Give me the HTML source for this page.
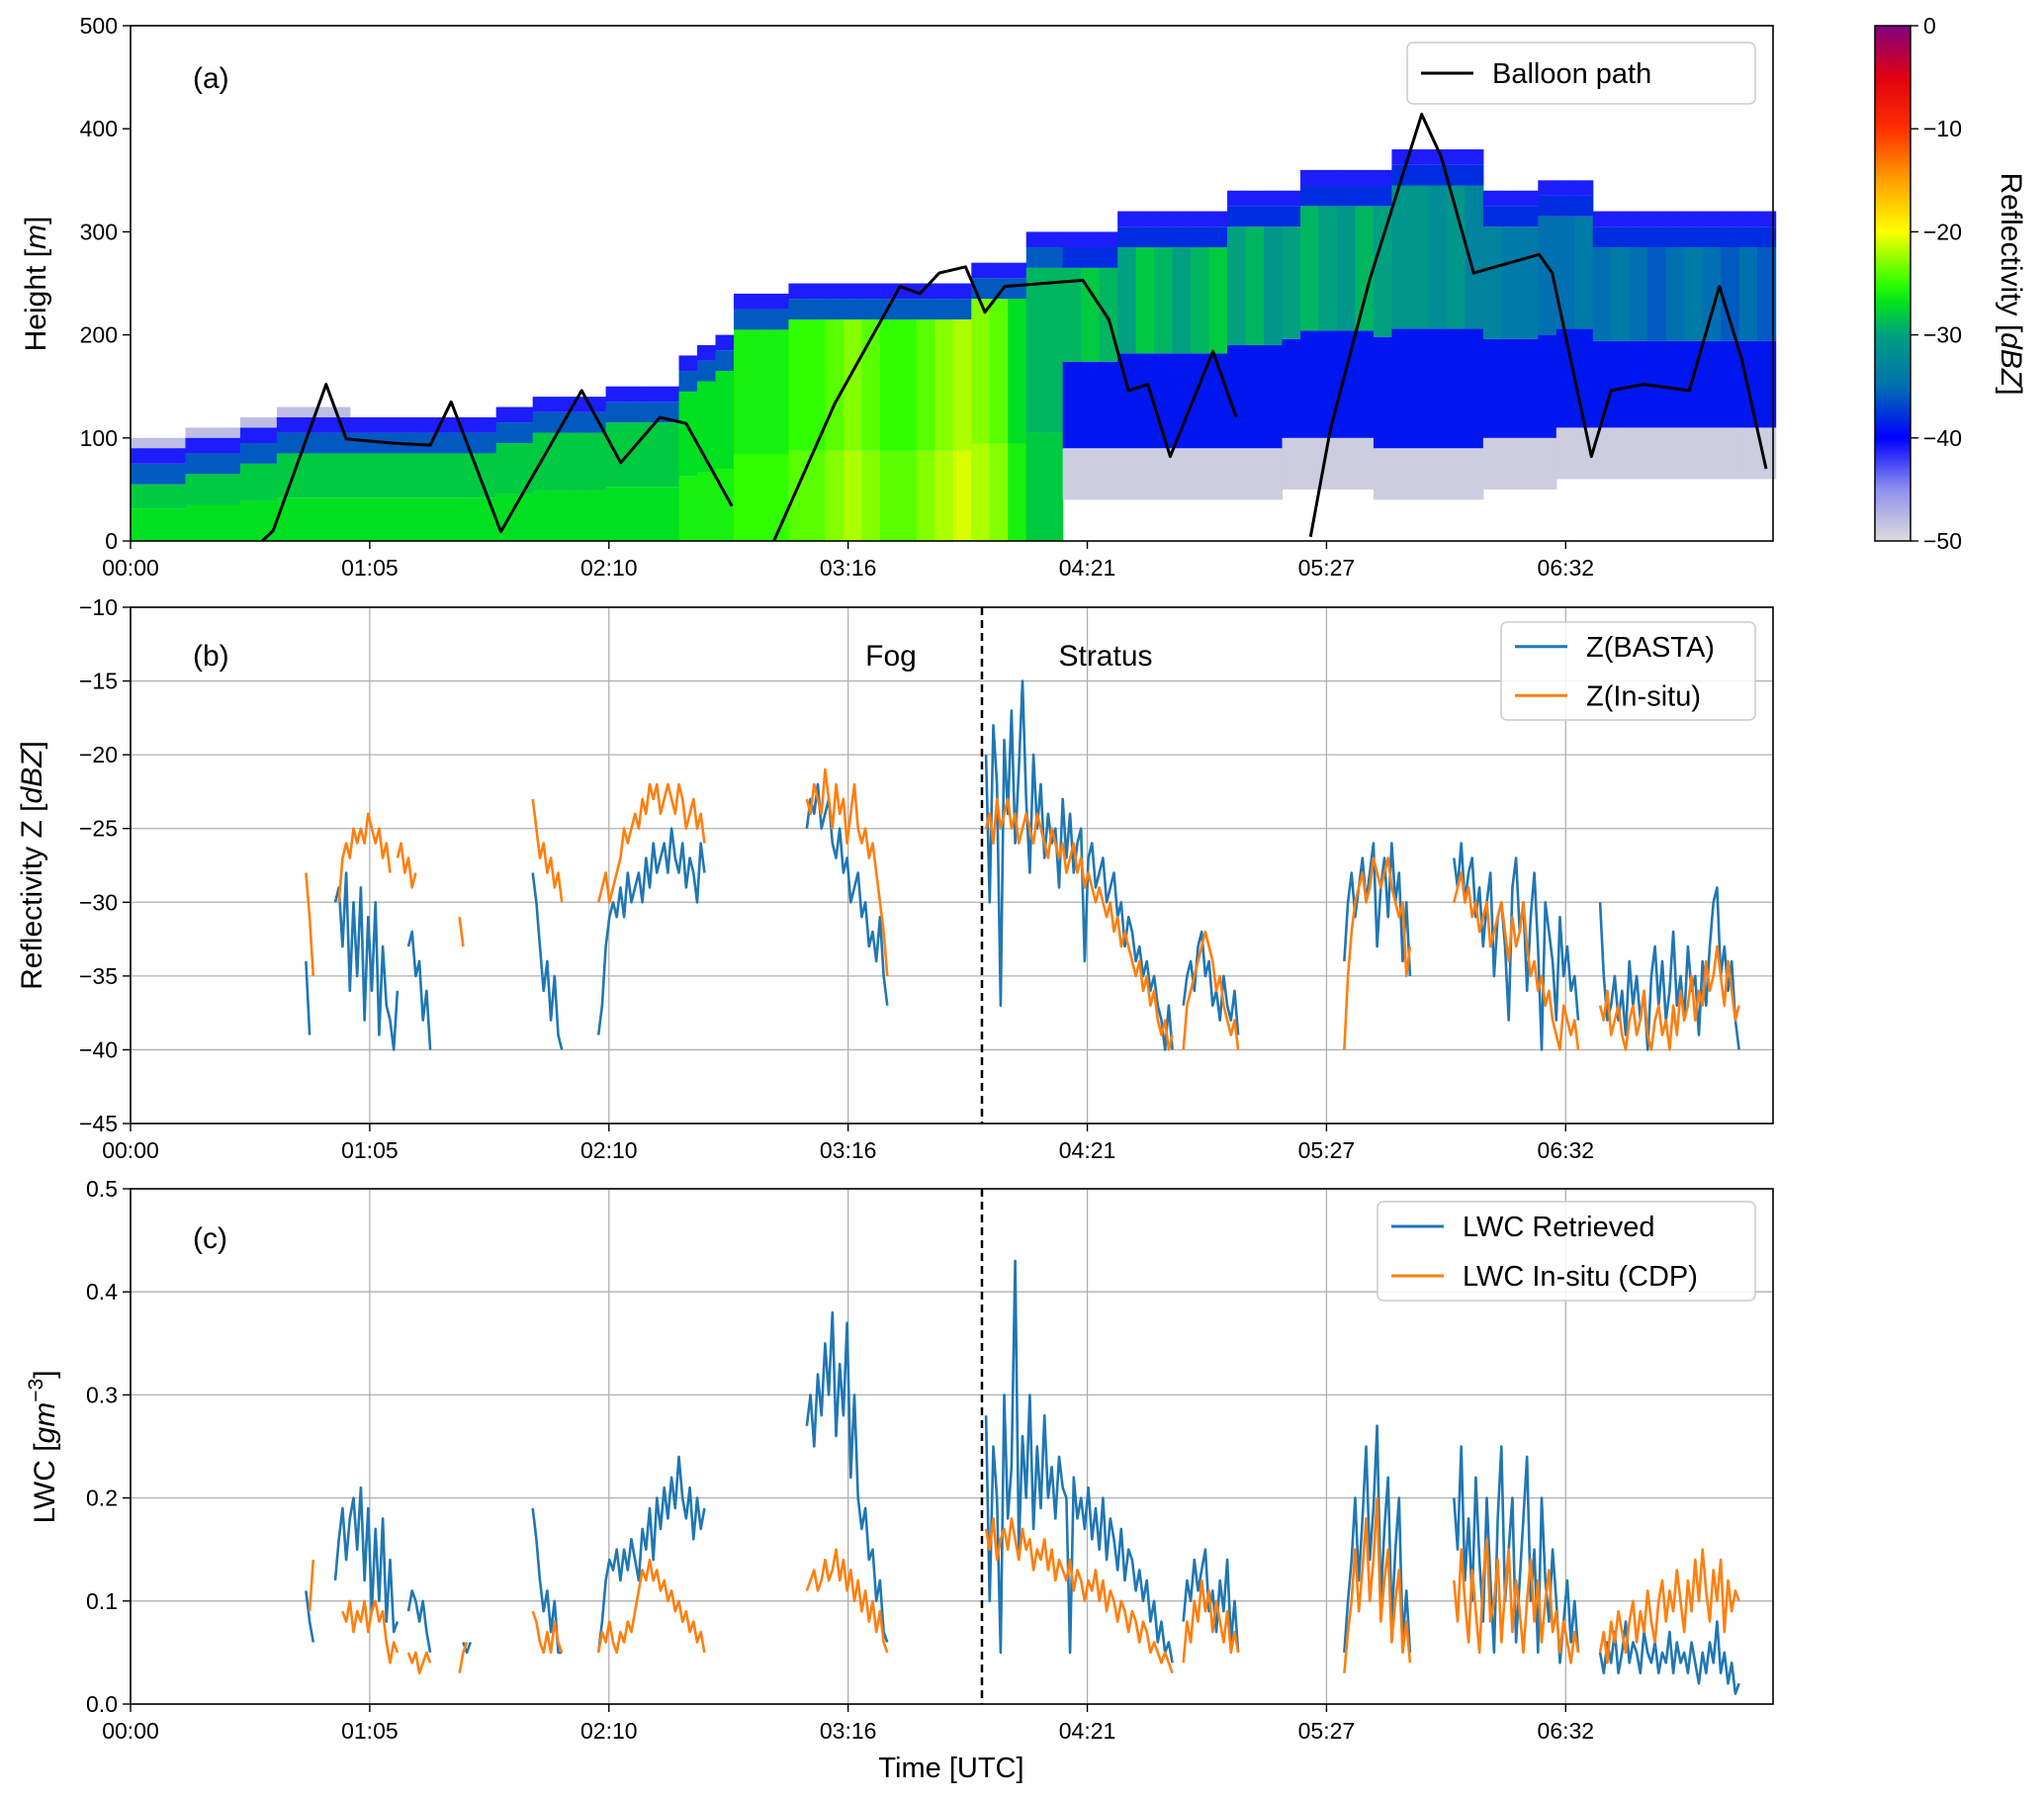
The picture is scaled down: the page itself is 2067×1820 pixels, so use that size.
<!DOCTYPE html>
<html><head><meta charset="utf-8"><style>
body{margin:0;background:#fff}
svg{display:block;font-family:"Liberation Sans","DejaVu Sans",sans-serif}
</style></head><body>
<svg id="fig" width="2067" height="1820" viewBox="0 0 2067 1820" xmlns="http://www.w3.org/2000/svg">
<defs>
<linearGradient id="cbar" x1="0" y1="1" x2="0" y2="0">
<stop offset="0" stop-color="#dcdcdc"/><stop offset="0.1" stop-color="#9090f0"/><stop offset="0.2" stop-color="#0000ff"/><stop offset="0.3" stop-color="#0070b0"/><stop offset="0.4" stop-color="#00a080"/><stop offset="0.46" stop-color="#00e020"/><stop offset="0.5" stop-color="#30ff00"/><stop offset="0.6" stop-color="#ffff00"/><stop offset="0.7" stop-color="#ffa000"/><stop offset="0.8" stop-color="#ff3000"/><stop offset="0.9" stop-color="#e00010"/><stop offset="1" stop-color="#800080"/>
</linearGradient>
</defs>
<g id="root"></g>
</svg>
<script>
const tickMinutes=[0,65.43,130.86,196.29,261.72,327.15,392.58];
const tickLabels=["00:00","01:05","02:10","03:16","04:21","05:27","06:32"];
const aTicks=[0,100,200,300,400,500];
const bTicks=[-45,-40,-35,-30,-25,-20,-15,-10];
const cTicks=[0,0.1,0.2,0.3,0.4,0.5];
const cbTicks=[-50,-40,-30,-20,-10,0];
// heatmap bins of 5 min
const heatTop=[90,90,90,100,100,100,110,110,120,120,120,120,120,120,120,120,120,120,120,120,130,130,140,140,140,140,150,150,150,150,180,190,200,240,240,240,250,250,250,250,250,250,250,250,250,250,270,270,270,300,300,300,300,300,320,320,320,320,320,320,340,340,340,340,360,360,360,360,360,380,380,380,380,380,340,340,340,350,350,350,320,320,320,320,320,320,320,320,320,320];
const heatBase=[0,0,0,0,0,0,0,0,0,0,0,0,0,0,0,0,0,0,0,0,0,0,0,0,0,0,0,0,0,0,0,0,0,0,0,0,0,0,0,0,0,0,0,0,0,0,0,0,0,0,0,40,40,40,40,40,40,40,40,40,40,40,40,50,50,50,50,50,40,40,40,40,40,40,50,50,50,50,60,60,60,60,60,60,60,60,60,60,60,60];
const heatCore=[-28,-28,-28,-28,-28,-28,-28,-28,-28,-28,-28,-28,-28,-28,-28,-28,-28,-28,-28,-28,-28,-28,-28,-28,-28,-28,-28,-28,-28,-28,-27,-27,-27,-26,-26,-26,-25,-25,-24,-23,-24,-25,-25,-24,-23,-22,-23,-24,-27,-29,-29,-29,-28,-29,-30,-28,-29,-30,-29,-28,-30,-29,-31,-30,-29,-30,-31,-29,-30,-31,-31,-32,-31,-33,-33,-34,-34,-35,-35,-34,-35,-34,-35,-36,-35,-34,-35,-36,-35,-36];
// balloon path: minutes, heights (null = break)
const balloonT=[36,39,53.5,59,71.3,82,87.7,101.3,123.4,134.1,144.8,152,164.5,null,176,192.6,210.5,215.9,221.2,228.4,233.7,239.1,260.5,267.6,273,278.3,284.4,296.1,302.5,null,322.8,328.2,338.9,353.2,358.5,367.4,385.3,388.9,399.6,405,413.9,426.4,434.6,440.7,447.4];
const balloonH=[0,10,152,99,95,93,135,9,146,76,120,114,34,null,0,133,247,240,260,266,222,247,253,215,146,152,82,184,120,null,4,108,253,414,373,260,278,260,82,146,152,146,247,177,70];
// Z series: segment start minutes and per-minute values
const zBastaStart=[48,56,76,110,128,185,234,288,332,362,402];
const zBastaVals=[[-34,-39],[-30,-29,-33,-28,-36,-30,-35,-29,-38,-31,-36,-30,-39,-33,-37,-38,-40,-36],[-33,-32,-35,-34,-38,-36,-40],[-28,-30,-33,-36,-34,-38,-35,-39,-40],[-39,-37,-33,-31,-30,-31,-29,-31,-28,-30,-29,-28,-30,-27,-29,-26,-28,-27,-26,-28,-25,-27,-28,-26,-29,-27,-28,-30,-26,-28],[-25,-23,-24,-22,-25,-24,-23,-26,-27,-25,-28,-27,-30,-29,-28,-31,-30,-33,-32,-34,-31,-35,-37],[-20,-30,-18,-22,-37,-19,-24,-17,-26,-21,-15,-23,-28,-20,-25,-22,-27,-24,-26,-25,-29,-23,-27,-24,-28,-26,-25,-34,-27,-26,-29,-28,-27,-30,-29,-28,-31,-30,-33,-31,-32,-34,-33,-35,-34,-36,-35,-37,-38,-40,-37,-40],[-37,-35,-34,-36,-33,-32,-35,-34,-37,-36,-38,-35,-37,-38,-36,-39],[-34,-30,-28,-31,-29,-27,-30,-28,-26,-33,-29,-27,-31,-26,-30,-28,-34,-30,-35],[-27,-29,-26,-30,-28,-27,-31,-29,-33,-30,-28,-35,-31,-30,-33,-38,-29,-27,-32,-30,-36,-31,-28,-33,-40,-30,-32,-34,-38,-31,-35,-33,-36,-35,-38],[-30,-35,-38,-37,-35,-38,-36,-39,-34,-37,-35,-38,-36,-40,-35,-33,-37,-34,-38,-36,-32,-37,-35,-38,-33,-36,-35,-39,-34,-37,-33,-30,-29,-35,-33,-36,-34,-38,-40]];
const zInsituStart=[48,57,73,90,110,128,185,234,288,332,362,402];
const zInsituVals=[[-28,-31,-35],[-30,-27,-26,-27,-25,-26,-25,-26,-24,-25,-26,-25,-27,-26,-28],[-27,-26,-28,-27,-29,-28],[-31,-33],[-23,-25,-27,-26,-28,-27,-29,-28,-30],[-30,-29,-28,-30,-29,-28,-27,-25,-26,-25,-24,-25,-23,-24,-22,-23,-22,-24,-23,-22,-23,-24,-22,-23,-25,-24,-23,-25,-24,-26],[-23,-24,-22,-23,-24,-21,-23,-25,-22,-24,-23,-26,-24,-22,-25,-26,-25,-27,-26,-28,-30,-32,-35],[-25,-24,-26,-23,-25,-24,-23,-25,-24,-26,-25,-24,-25,-26,-24,-25,-26,-27,-25,-26,-27,-26,-28,-27,-26,-28,-27,-29,-28,-29,-30,-29,-30,-31,-30,-32,-31,-33,-32,-33,-34,-35,-34,-36,-35,-37,-36,-38,-39,-38,-40,-39],[-40,-37,-36,-35,-34,-33,-32,-33,-34,-36,-35,-37,-38,-39,-38,-40],[-40,-35,-32,-30,-29,-28,-30,-29,-27,-28,-29,-28,-27,-29,-30,-31,-30,-35,-33],[-30,-29,-28,-30,-29,-31,-30,-32,-31,-30,-33,-32,-31,-30,-32,-34,-31,-33,-32,-30,-33,-35,-34,-36,-35,-37,-36,-38,-39,-40,-37,-38,-39,-38,-40],[-37,-38,-36,-39,-38,-37,-39,-40,-38,-37,-39,-38,-36,-39,-40,-38,-37,-39,-38,-40,-37,-39,-36,-38,-37,-35,-38,-36,-37,-34,-36,-35,-33,-35,-37,-34,-36,-38,-37]];
const lwcRetStart=[48,56,76,91,110,128,185,234,288,332,362,402];
const lwcRetVals=[[0.11,0.08,0.06],[0.12,0.16,0.19,0.14,0.18,0.2,0.15,0.21,0.12,0.19,0.09,0.17,0.1,0.18,0.08,0.14,0.07,0.08],[0.09,0.11,0.1,0.08,0.1,0.07,0.05],[0.06,0.05,0.06],[0.19,0.16,0.12,0.09,0.11,0.07,0.1,0.05,0.05],[0.05,0.08,0.12,0.14,0.13,0.15,0.12,0.15,0.13,0.16,0.14,0.12,0.17,0.15,0.19,0.14,0.2,0.17,0.21,0.18,0.22,0.19,0.24,0.2,0.18,0.21,0.16,0.2,0.17,0.19],[0.27,0.3,0.25,0.32,0.28,0.35,0.3,0.38,0.26,0.33,0.28,0.37,0.22,0.3,0.2,0.17,0.19,0.14,0.15,0.1,0.12,0.07,0.06],[0.28,0.1,0.25,0.2,0.05,0.3,0.18,0.23,0.43,0.15,0.26,0.2,0.3,0.17,0.25,0.19,0.28,0.2,0.23,0.18,0.24,0.21,0.2,0.05,0.22,0.18,0.2,0.17,0.21,0.16,0.19,0.15,0.2,0.14,0.18,0.16,0.13,0.17,0.12,0.15,0.14,0.11,0.13,0.1,0.12,0.08,0.1,0.06,0.08,0.05,0.06,0.04],[0.08,0.12,0.1,0.14,0.11,0.13,0.15,0.09,0.11,0.07,0.12,0.09,0.14,0.06,0.1,0.05],[0.05,0.1,0.14,0.2,0.12,0.18,0.25,0.14,0.19,0.27,0.1,0.17,0.22,0.08,0.15,0.2,0.06,0.11,0.05],[0.2,0.15,0.25,0.12,0.18,0.1,0.22,0.14,0.08,0.2,0.12,0.05,0.18,0.25,0.1,0.15,0.2,0.06,0.12,0.18,0.24,0.1,0.15,0.05,0.2,0.12,0.08,0.15,0.1,0.04,0.08,0.12,0.06,0.1,0.05],[0.05,0.03,0.06,0.04,0.07,0.03,0.05,0.08,0.04,0.06,0.05,0.03,0.07,0.05,0.04,0.06,0.03,0.05,0.04,0.07,0.03,0.06,0.04,0.05,0.03,0.06,0.04,0.02,0.05,0.03,0.06,0.04,0.08,0.03,0.05,0.02,0.04,0.01,0.02]];
const lwcCdpStart=[49,58,76,90,110,128,185,234,288,332,362,402];
const lwcCdpVals=[[0.09,0.14],[0.09,0.08,0.1,0.07,0.09,0.08,0.1,0.07,0.09,0.1,0.08,0.09,0.06,0.04,0.06,0.05],[0.05,0.04,0.05,0.03,0.04,0.05,0.04],[0.03,0.05,0.06],[0.09,0.08,0.06,0.05,0.07,0.05,0.08,0.06,0.05],[0.05,0.07,0.06,0.08,0.06,0.05,0.07,0.06,0.08,0.07,0.09,0.11,0.13,0.12,0.14,0.12,0.13,0.11,0.12,0.1,0.11,0.09,0.1,0.08,0.09,0.07,0.08,0.06,0.07,0.05],[0.11,0.12,0.13,0.11,0.12,0.14,0.12,0.13,0.15,0.12,0.14,0.11,0.13,0.1,0.12,0.09,0.11,0.08,0.1,0.07,0.09,0.06,0.05],[0.17,0.15,0.18,0.14,0.16,0.17,0.15,0.18,0.16,0.14,0.17,0.15,0.16,0.13,0.15,0.14,0.16,0.13,0.15,0.12,0.14,0.13,0.12,0.14,0.11,0.13,0.12,0.1,0.12,0.11,0.13,0.1,0.12,0.09,0.11,0.1,0.08,0.1,0.09,0.07,0.09,0.08,0.06,0.08,0.07,0.05,0.06,0.05,0.04,0.05,0.04,0.03],[0.04,0.08,0.06,0.1,0.08,0.12,0.09,0.11,0.07,0.1,0.08,0.06,0.09,0.05,0.07,0.05],[0.03,0.07,0.1,0.15,0.09,0.13,0.18,0.1,0.14,0.2,0.08,0.12,0.15,0.06,0.1,0.13,0.05,0.08,0.04],[0.12,0.08,0.15,0.1,0.06,0.13,0.09,0.05,0.12,0.16,0.08,0.1,0.14,0.06,0.11,0.15,0.07,0.12,0.09,0.05,0.1,0.14,0.08,0.12,0.06,0.1,0.13,0.07,0.09,0.05,0.08,0.06,0.04,0.07,0.05],[0.05,0.07,0.04,0.08,0.06,0.09,0.07,0.05,0.08,0.1,0.06,0.09,0.07,0.11,0.08,0.06,0.1,0.12,0.08,0.11,0.09,0.13,0.1,0.07,0.12,0.09,0.14,0.1,0.15,0.11,0.08,0.13,0.1,0.14,0.07,0.12,0.09,0.11,0.1]];
const dividerMinute=232.9;

const NS="http://www.w3.org/2000/svg";
const root=document.getElementById('root');
function el(tag,attrs,parent,text){const e=document.createElementNS(NS,tag);for(const k in attrs)e.setAttribute(k,attrs[k]);if(text!==undefined)e.textContent=text;(parent||root).appendChild(e);return e;}
const L=132,R=1793,TMAX=449.3;
const P={a:{T:26,B:547,min:0,max:500},b:{T:614,B:1136,min:-45,max:-10},c:{T:1202,B:1723,min:0,max:0.5}};
function xs(t){return L+t/TMAX*(R-L);}
function ys(p,v){return p.B-(v-p.min)/(p.max-p.min)*(p.B-p.T);}
const stops=[[-50,[220,220,220]],[-45,[144,144,240]],[-40,[0,0,255]],[-35,[0,112,176]],[-30,[0,160,128]],[-27,[0,224,32]],[-25,[48,255,0]],[-20,[255,255,0]],[-15,[255,160,0]],[-10,[255,48,0]],[-5,[224,0,16]],[0,[128,0,128]]];
function cmap(v){v=Math.max(-50,Math.min(0,v));for(let i=0;i<stops.length-1;i++){const a=stops[i],b=stops[i+1];if(v<=b[0]){const f=(v-a[0])/(b[0]-a[0]);const c=a[1].map((x,j)=>Math.round(x+(b[1][j]-x)*f));return `rgb(${c})`;}}return 'rgb(128,0,128)';}

// ----- panel a heatmap -----
const pa=P.a;
const hm=el('g',{});


for(let i=0;i<heatTop.length;i++){
  const x0=xs(i*5),x1=xs(i*5+5),w=x1-x0+0.6;
  const top=heatTop[i],base=heatBase[i],core=heatCore[i];
  if(base>0){const r=el('rect',{x:x0,y:ys(pa,base+50),width:w,height:ys(pa,base)-ys(pa,base+50),fill:cmap(-49)},hm);}
  else if(i*5<60){const r=el('rect',{x:x0,y:ys(pa,top+10),width:w,height:ys(pa,top)-ys(pa,top+10),fill:cmap(-48)},hm);}
  const lo=base>0?base+50:0;
  let segs;
  if(base>0){const mid=lo+(top-lo)*0.4;segs=[[lo,mid,-39],[mid,top-35,core],[top-35,top-15,-38],[top-15,top,-41]];}
  else segs=[[lo,top*0.35,core+1],[top*0.35,top-35,core],[top-35,top-15,-36],[top-15,top,-41]];
  for(const s of segs){
    if(s[1]<=s[0])continue;
    const r=el('rect',{x:x0,y:ys(pa,s[1]),width:w,height:ys(pa,s[0])-ys(pa,s[1]),fill:cmap(s[2])},hm);
    
    
  }
}
// balloon path
{let d='',pen=false;for(let i=0;i<balloonT.length;i++){if(balloonT[i]===null){pen=false;continue;}d+=(pen?'L':'M')+xs(balloonT[i]).toFixed(1)+','+ys(pa,balloonH[i]).toFixed(1);pen=true;}
const p=el('path',{d:d,fill:'none',stroke:'#000','stroke-width':3,'stroke-linejoin':'round'});

}

// ----- panels b, c grid -----
function grid(p,ticks){
  for(const t of tickMinutes){const l=el('line',{x1:xs(t),x2:xs(t),y1:p.T,y2:p.B,stroke:'#b0b0b0','stroke-width':1.3});}
  for(const v of ticks){const l=el('line',{x1:L,x2:R,y1:ys(p,v),y2:ys(p,v),stroke:'#b0b0b0','stroke-width':1.3});}
}
grid(P.b,bTicks);grid(P.c,cTicks);

function series(p,starts,vals,color,name){
  let d='';
  for(let s=0;s<starts.length;s++){vals[s].forEach((v,j)=>{d+=(j?'L':'M')+xs(starts[s]+j).toFixed(1)+','+ys(p,v).toFixed(1);});}
  const e=el('path',{d:d,fill:'none',stroke:color,'stroke-width':2.6,'stroke-linejoin':'round'});
  
  
}
series(P.b,zBastaStart,zBastaVals,'#1f77b4','z-basta-line');
series(P.b,zInsituStart,zInsituVals,'#ff7f0e','z-insitu-line');
series(P.c,lwcRetStart,lwcRetVals,'#1f77b4','lwc-retrieved-line');
series(P.c,lwcCdpStart,lwcCdpVals,'#ff7f0e','lwc-cdp-line');
for(const p of [P.b,P.c]){const l=el('line',{x1:xs(dividerMinute),x2:xs(dividerMinute),y1:p.T,y2:p.B,stroke:'#000','stroke-width':2.5,'stroke-dasharray':'8,5'});}

// ----- axes frames and ticks -----
function axes(p,ticks,fmt,key){
  const f=el('rect',{x:L,y:p.T,width:R-L,height:p.B-p.T,fill:'none',stroke:'#000','stroke-width':1.6});
  
  
  tickMinutes.forEach((t,i)=>{
    el('line',{x1:xs(t),x2:xs(t),y1:p.B,y2:p.B+8,stroke:'#000','stroke-width':1.4});
    const tx=el('text',{x:xs(t),y:p.B+35,'font-size':23,'text-anchor':'middle',fill:'#000'},root,tickLabels[i]);
    
    
  });
  ticks.forEach(v=>{
    el('line',{x1:L-8,x2:L,y1:ys(p,v),y2:ys(p,v),stroke:'#000','stroke-width':1.4});
    const tx=el('text',{x:L-13,y:ys(p,v)+8,'font-size':23,'text-anchor':'end',fill:'#000'},root,fmt(v));
    
    
  });
}
axes(P.a,aTicks,v=>String(v),'a');
axes(P.b,bTicks,v=>(v<0?'\u2212'+(-v):String(v)),'b');
axes(P.c,cTicks,v=>v.toFixed(1),'c');

function txt(x,y,s,size,name,extra){const t=el('text',Object.assign({x:x,y:y,'font-size':size,fill:'#000'},extra||{}),root);t.innerHTML=s;return t;}
txt(195,89,'(a)',30,'panel-label-a');
txt(195,673,'(b)',30,'panel-label-b');
txt(195,1262,'(c)',30,'panel-label-c');
txt(901,673,'Fog',30,'fog-label',{'text-anchor':'middle'});
txt(1118,673,'Stratus',30,'stratus-label',{'text-anchor':'middle'});
txt(0,0,'Height [<tspan font-style="italic">m</tspan>]',30,'y-axis-title-a',{transform:'translate(46,287) rotate(-90)','text-anchor':'middle'});
txt(0,0,'Reflectivity Z [<tspan font-style="italic">dBZ</tspan>]',30,'y-axis-title-b',{transform:'translate(42,875) rotate(-90)','text-anchor':'middle'});
txt(0,0,'LWC [<tspan font-style="italic">gm</tspan><tspan dy="-12" font-size="21">\u22123</tspan><tspan dy="12">]</tspan>',30,'y-axis-title-c',{transform:'translate(55,1463) rotate(-90)','text-anchor':'middle'});
txt(962,1797,'Time [UTC]',29,'x-axis-title',{'text-anchor':'middle'});

// legends
function legend(x,y,w,h,items,name){
  const g=el('g',{});
  el('rect',{x:x,y:y,width:w,height:h,rx:6,fill:'#fff','fill-opacity':0.85,stroke:'#ccc','stroke-width':1.5},g);
  items.forEach((it,i)=>{const cy=y+h/items.length*(i+0.5);
    el('line',{x1:x+14,x2:x+67,y1:cy,y2:cy,stroke:it[1],'stroke-width':3},g);
    const t=el('text',{x:x+86,y:cy+10,'font-size':29,fill:'#000'},g,it[0]);});
}
legend(1423,43,352,62,[['Balloon path','#000']],'legend-a');
legend(1518,629,257,99,[['Z(BASTA)','#1f77b4'],['Z(In-situ)','#ff7f0e']],'legend-b');
legend(1393,1215,382,100,[['LWC Retrieved','#1f77b4'],['LWC In-situ (CDP)','#ff7f0e']],'legend-c');

// colorbar
const cbX=1896,cbW=36,cbT=26,cbB=547;
{const r=el('rect',{x:cbX,y:cbT,width:cbW,height:cbB-cbT,fill:'url(#cbar)',stroke:'#000','stroke-width':1.5});}
cbTicks.forEach(v=>{const y=cbB-(v+50)/50*(cbB-cbT);
  el('line',{x1:cbX+cbW,x2:cbX+cbW+8,y1:y,y2:y,stroke:'#000','stroke-width':1.4});
  const t=el('text',{x:cbX+cbW+13,y:y+8,'font-size':23,fill:'#000'},root,v<0?'\u2212'+(-v):String(v));
  });
txt(0,0,'Reflectivity [<tspan font-style="italic">dBZ</tspan>]',30,'colorbar-title',{transform:'translate(2024,287) rotate(90)','text-anchor':'middle'});
</script>
</body></html>
